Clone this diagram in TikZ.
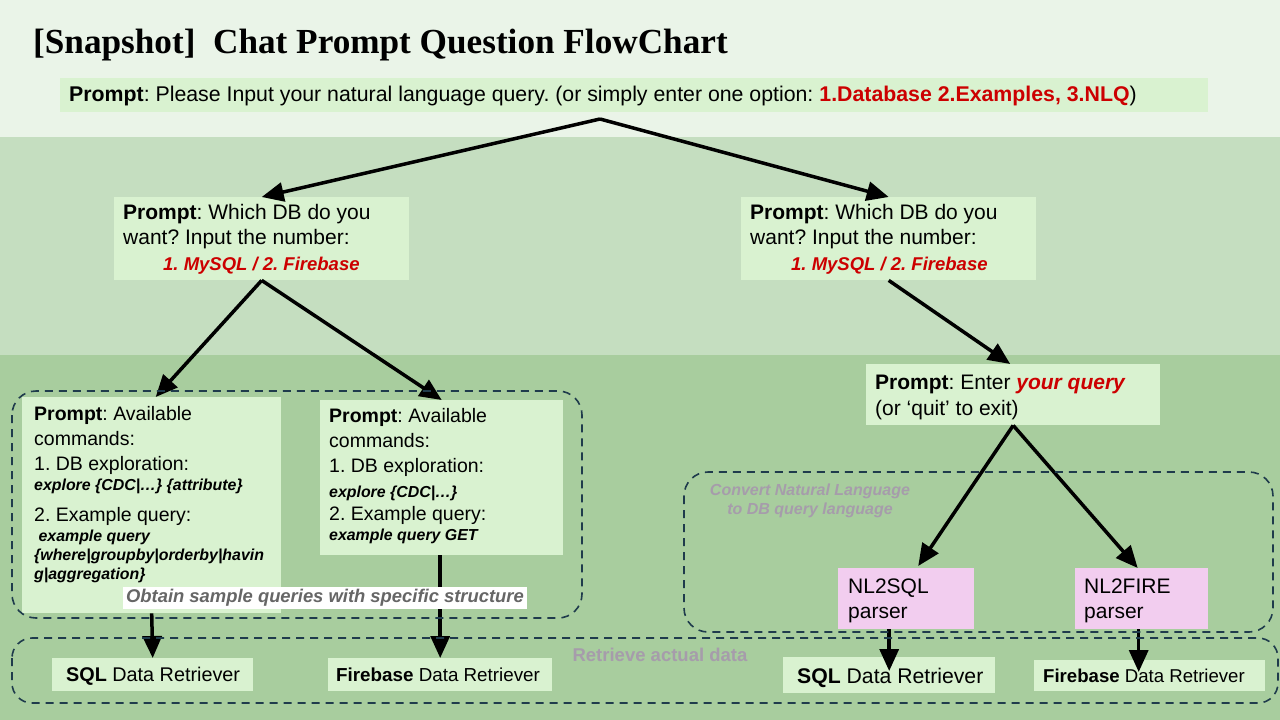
\documentclass[tikz,border=0pt]{standalone}
\usepackage{fontspec}
\setmainfont{Liberation Sans}
\newfontfamily\titlefont{Liberation Serif}
\usetikzlibrary{arrows.meta,calc}
\definecolor{bandA}{HTML}{EAF4E8}
\definecolor{bandB}{HTML}{C5DEC0}
\definecolor{bandC}{HTML}{A8CD9E}
\definecolor{boxg}{HTML}{D9F2D0}
\definecolor{pinkc}{HTML}{F2CDEF}
\definecolor{redc}{HTML}{CC0000}
\definecolor{dashc}{HTML}{1F3B4C}
\definecolor{grayl}{HTML}{666666}
\definecolor{purpl}{HTML}{A69CAB}
\frenchspacing
\tikzset{
  box/.style={fill=boxg, inner sep=0pt, anchor=north west},
  pbox/.style={fill=pinkc, inner sep=0pt, anchor=north west},
  txt/.style={anchor=base west, inner sep=0pt, align=left, font=\fontsize{19.5}{25}\selectfont},
  arr/.style={line width=3.5pt, -{Triangle[length=22pt,width=19pt]}},
  dbox/.style={draw=dashc, line width=1.6pt, dash pattern=on 8pt off 6pt, rounded corners=24pt},
}
\newcommand{\sm}[1]{{\fontsize{15.9}{19}\selectfont\bfseries\itshape #1}}
\begin{document}
\begin{tikzpicture}[x=1pt,y=-1pt]
\useasboundingbox (0,0) rectangle (1280,720);
% bands
\fill[bandA] (0,0) rectangle (1280,137);
\fill[bandB] (0,137) rectangle (1280,355);
\fill[bandC] (0,355) rectangle (1280,720);
% title
\node[anchor=base west, inner sep=0pt, font=\fontsize{35.2}{38}\selectfont\titlefont\bfseries] (title) at (33,53) {[Snapshot]\ \ Chat Prompt Question FlowChart};
% boxes
\node[box, minimum width=1148, minimum height=34] (top) at (60,78) {};
\node[box, minimum width=295, minimum height=83] (dbL) at (114,197) {};
\node[box, minimum width=295, minimum height=83] (dbR) at (741,197) {};
\node[box, minimum width=259, minimum height=216] (cmdL) at (22,397) {};
\node[box, minimum width=243, minimum height=155] (cmdR) at (320,400) {};
\node[box, minimum width=294, minimum height=61] (enter) at (866,364) {};
\node[pbox, minimum width=136, minimum height=61] (nlsql) at (838,568) {};
\node[pbox, minimum width=133, minimum height=61] (nlfire) at (1075,568) {};
\node[box, minimum width=201, minimum height=33] (sqlL) at (52,658) {};
\node[box, minimum width=224, minimum height=33] (fbL) at (328,658) {};
\node[box, minimum width=212, minimum height=36] (sqlR) at (783,657) {};
\node[box, minimum width=231, minimum height=31] (fbR) at (1034,660) {};
% texts
\node[txt, font=\fontsize{21.3}{25}\selectfont] (ttop) at (69,101) {\textbf{Prompt}: Please Input your natural language query. (or simply enter one option: \textcolor{redc}{\textbf{1.Database 2.Examples, 3.NLQ}})};
\node[txt, font=\fontsize{21}{25.5}\selectfont] (tdbL) at (123,270) {\textbf{Prompt}: Which DB do you\\want? Input the number:\\\hspace*{40pt}\textcolor{redc}{\fontsize{18.5}{20}\selectfont\bfseries\itshape 1. MySQL / 2. Firebase}};
\node[txt, font=\fontsize{21}{25.5}\selectfont] (tdbR) at (750,270) {\textbf{Prompt}: Which DB do you\\want? Input the number:\\\hspace*{41pt}\textcolor{redc}{\fontsize{18.5}{20}\selectfont\bfseries\itshape 1. MySQL / 2. Firebase}};
\node[txt] (tcmdL) at (34,579) {\textbf{Prompt}: Available\\commands:\\1. DB exploration:\\[-5pt]\sm{explore \{CDC|\ldots\} \{attribute\}}\\[6pt]2. Example query:\\[-5pt]\sm{\ example query}\\[-6pt]\sm{\{where|groupby|orderby|havin}\\[-6pt]\sm{g|aggregation\}}};
\node[txt] (tcmdR) at (329,540) {\textbf{Prompt}: Available\\commands:\\1. DB exploration:\\[0pt]\sm{explore \{CDC|\ldots\}}\\[-2pt]2. Example query:\\[-5pt]\sm{example query GET}};
\node[txt, font=\fontsize{21}{26}\selectfont] (tenter) at (875,415) {\textbf{Prompt}: Enter \textcolor{redc}{\bfseries\itshape your query}\\(or ‘quit’ to exit)};
\node[txt, font=\fontsize{21}{25}\selectfont] (tnlsql) at (848,618) {NL2SQL\\parser};
\node[txt, font=\fontsize{21}{25}\selectfont] (tnlfire) at (1084,618) {NL2FIRE\\parser};
\node[txt, font=\fontsize{19.8}{24}\selectfont] (tsqlL) at (66,681) {\textbf{SQL} Data Retriever};
\node[txt, font=\fontsize{18.8}{24}\selectfont] (tfbL) at (336,681) {\textbf{Firebase} Data Retriever};
\node[txt, font=\fontsize{21.2}{24}\selectfont] (tsqlR) at (797,683) {\textbf{SQL} Data Retriever};
\node[txt, font=\fontsize{18.6}{24}\selectfont] (tfbR) at (1043,682) {\textbf{Firebase} Data Retriever};
% arrows
\coordinate (apex) at (600,119);
\draw[arr] (apex) -- (dbL.north);
\draw[arr] (apex) -- (dbR.north);
\draw[arr] (dbL.south) -- ($(cmdL.north)+(4,0)$);
\draw[arr] (dbL.south) -- (cmdR.north);
\draw[arr] (dbR.south) -- ($(enter.north)+(-3,0)$);
\draw[arr] (enter.south) -- ($(nlsql.north)+(12,-2)$);
\draw[arr] (enter.south) -- ($(nlfire.north)+(-4,0)$);
\draw[arr] (cmdL.south) -- (sqlL.north);
\draw[arr] (cmdR.south -| fbL.north) -- (fbL.north);
\draw[arr] (nlsql.south -| sqlR.north) -- ($(sqlR.north)+(0,14)$);
\coordinate (fbx) at ($(nlfire.south)+(-3,0)$);
\draw[arr] (fbx) -- ($(fbx |- fbR.north)+(0,12)$);
% dashed groups
\draw[dbox] (12,391) rectangle (582,618);
\draw[dbox] (684,472) rectangle (1273,632);
\draw[dbox, rounded corners=20pt] (12,638) rectangle (1278,703);
% labels
\node[fill=white, inner sep=0pt, minimum width=404, minimum height=22, text=grayl, font=\fontsize{18.4}{20}\selectfont\bfseries\itshape] (lobt) at (325,598) {Obtain sample queries with specific structure};
\node[text=purpl, inner sep=0pt, font=\fontsize{18.5}{20}\selectfont\bfseries] (lret) at (660,655) {Retrieve actual data};
\node[text=purpl, inner sep=0pt, align=center, font=\fontsize{16}{19}\selectfont\bfseries\itshape] (lconv) at (810,501) {Convert Natural Language\\to DB query language};
\end{tikzpicture}
\end{document}
